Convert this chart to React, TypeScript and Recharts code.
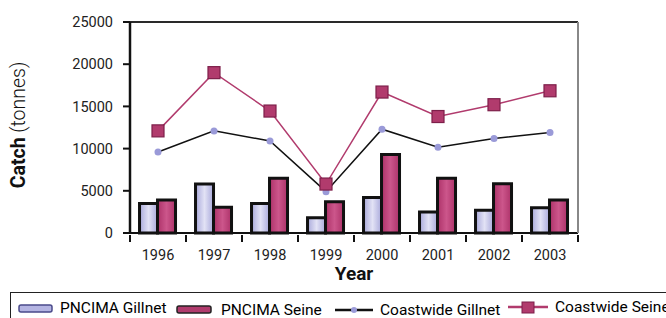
import React from 'react';
import { ComposedChart, Bar, Line, XAxis, YAxis, CartesianGrid } from 'recharts';

const years = ['1996', '1997', '1998', '1999', '2000', '2001', '2002', '2003'];
const pncimaGillnet = [3500, 5800, 3500, 1800, 4200, 2500, 2700, 3000];
const pncimaSeine = [3900, 3050, 6500, 3700, 9300, 6500, 5850, 3900];
const coastwideGillnet = [9600, 12100, 10900, 4900, 12300, 10150, 11200, 11900];
const coastwideSeine = [12100, 19000, 14450, 5800, 16700, 13800, 15200, 16850];
const yTicks = [0, 5000, 10000, 15000, 20000, 25000];

const data = years.map((year, i) => ({
  year,
  pncimaGillnet: pncimaGillnet[i],
  pncimaSeine: pncimaSeine[i],
  coastwideGillnet: coastwideGillnet[i],
  coastwideSeine: coastwideSeine[i],
}));

const W = 666;
const H = 318;
const LEFT = 130;
const RIGHT = 88;
const FONT = 'Roboto, "DejaVu Sans", sans-serif';
const SEINE = '#b13b6d';
const LAVENDER = '#b4b4e2';
const halfBand = (W - LEFT - RIGHT) / years.length / 2;

// x ticks sit between the categories, labels in the middle
const XTick = (props: any) => {
  const { x, y, payload, index } = props;
  return (
    <g>
      <line x1={x + halfBand} x2={x + halfBand} y1={y - 6} y2={y + 1} stroke="#111" strokeWidth={2} />
      {index === 0 && <line x1={x - halfBand} x2={x - halfBand} y1={y - 6} y2={y + 1} stroke="#111" strokeWidth={2} />}
      <text x={x} y={y + 19} textAnchor="middle" fontSize={14.5} fill="#222" fontFamily={FONT}>
        {payload.value}
      </text>
    </g>
  );
};

const SquareDot = (props: any) => {
  const { cx, cy } = props;
  if (cx == null || cy == null) return null;
  return <rect x={cx - 6} y={cy - 6} width={12} height={12} fill={SEINE} stroke="#7d1f4a" strokeWidth={1.2} />;
};

const YLabel = () => (
  <text transform="translate(25,125) rotate(-90)" textAnchor="middle" fontSize={19.5} fontFamily={FONT} fill="#111">
    <tspan fontWeight={700}>Catch</tspan>
    <tspan fontWeight={300}> (tonnes)</tspan>
  </text>
);

const XLabel = (props: any) => {
  const { viewBox } = props;
  return (
    <text x={viewBox.x + viewBox.width / 2} y={280} textAnchor="middle" fontSize={19} fontWeight={700} fontFamily={FONT} fill="#111">
      Year
    </text>
  );
};

const LegendBox = () => (
  <div
    style={{
      position: 'absolute',
      left: 10,
      top: 292,
      width: 700,
      height: 40,
      borderTop: '1.5px solid #222',
      borderLeft: '1.5px solid #222',
      fontFamily: FONT,
      fontSize: 15.5,
      color: '#222',
    }}
  >
    <svg width={700} height={30} style={{ position: 'absolute', left: 0, top: 0 }}>
      <rect x={8} y={12} width={33} height={7} rx={2} fill={LAVENDER} stroke="#4a4a8a" strokeWidth={1.5} />
      <rect x={166} y={13} width={34} height={7} rx={2} fill={SEINE} stroke="#222" strokeWidth={1.5} />
      <line x1={324} x2={362} y1={17} y2={17} stroke="#111" strokeWidth={2.5} />
      <circle cx={343} cy={17} r={3} fill="#9a9ad8" />
      <line x1={497} x2={537} y1={14} y2={14} stroke={SEINE} strokeWidth={2.5} />
      <rect x={511} y={9} width={12} height={11} fill={SEINE} stroke="#7d1f4a" strokeWidth={1} />
      <text x={49} y={20} fontSize={15.5}>PNCIMA Gillnet</text>
      <text x={210} y={22} fontSize={15.5}>PNCIMA Seine</text>
      <text x={369} y={22} fontSize={15.5}>Coastwide Gillnet</text>
      <text x={544} y={19} fontSize={15.5}>Coastwide Seine</text>
    </svg>
  </div>
);

export default function App() {
  return (
    <div style={{ position: 'absolute', left: 0, top: 0, width: W, height: H, background: '#fff', overflow: 'hidden' }}>
      <ComposedChart
        width={W}
        height={H}
        data={data}
        margin={{ top: 22, right: 0, bottom: 0, left: 0 }}
        barCategoryGap="17%"
        barGap={0}
      >
        <defs>
          <linearGradient id="gGill" x1="0" y1="0" x2="1" y2="0">
            <stop offset="0%" stopColor="#a9a9db" />
            <stop offset="50%" stopColor="#e2e2f5" />
            <stop offset="100%" stopColor="#a9a9db" />
          </linearGradient>
          <linearGradient id="gSeine" x1="0" y1="0" x2="1" y2="0">
            <stop offset="0%" stopColor="#ad3269" />
            <stop offset="50%" stopColor="#cc568b" />
            <stop offset="100%" stopColor="#ad3269" />
          </linearGradient>
        </defs>
        <CartesianGrid vertical={false} stroke="#2a2a2a" strokeWidth={2} />
        <XAxis
          dataKey="year"
          height={85}
          axisLine={{ stroke: '#111', strokeWidth: 2 }}
          tickLine={false}
          tick={<XTick />}
          interval={0}
          label={<XLabel />}
        />
        <YAxis
          yAxisId="left"
          width={LEFT}
          domain={[0, 25000]}
          ticks={yTicks}
          axisLine={{ stroke: '#111', strokeWidth: 2.5 }}
          tickLine={{ stroke: '#111', strokeWidth: 2 }}
          tickSize={7}
          tickMargin={10}
          tick={{ fontSize: 14.5, fill: '#222', fontFamily: FONT }}
          label={<YLabel />}
        />
        <YAxis
          yAxisId="right"
          orientation="right"
          width={RIGHT}
          domain={[0, 25000]}
          tick={false}
          tickLine={false}
          axisLine={{ stroke: '#888', strokeWidth: 2 }}
        />
        <Bar yAxisId="left" dataKey="pncimaGillnet" fill="url(#gGill)" stroke="#111" strokeWidth={3} isAnimationActive={false} />
        <Bar yAxisId="left" dataKey="pncimaSeine" fill="url(#gSeine)" stroke="#111" strokeWidth={3} isAnimationActive={false} />
        <Line
          yAxisId="left"
          dataKey="coastwideGillnet"
          stroke="#111"
          strokeWidth={1.5}
          dot={{ r: 3.5, fill: '#9a9ad8', stroke: 'none' }}
          isAnimationActive={false}
        />
        <Line
          yAxisId="left"
          dataKey="coastwideSeine"
          stroke={SEINE}
          strokeWidth={1.5}
          dot={<SquareDot />}
          isAnimationActive={false}
        />
      </ComposedChart>
      <LegendBox />
    </div>
  );
}
